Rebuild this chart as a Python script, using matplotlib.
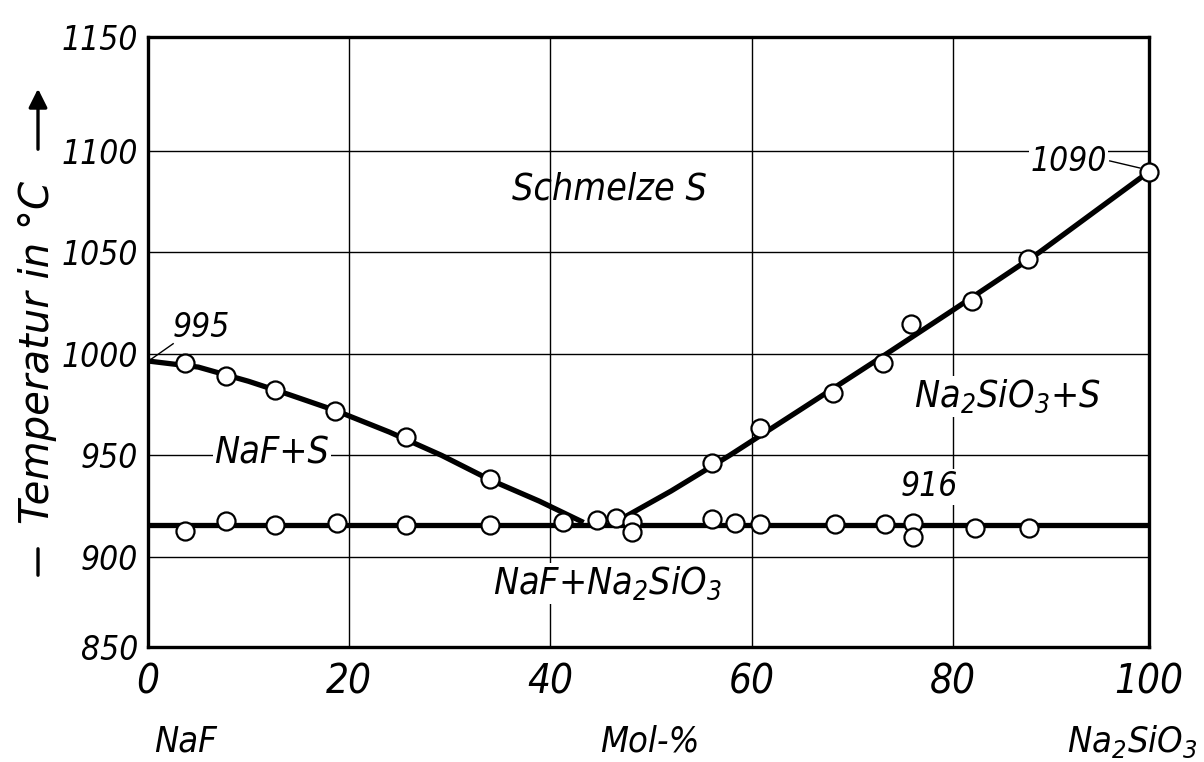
import matplotlib
matplotlib.use('Agg')
import matplotlib.pyplot as plt
from matplotlib import font_manager

# pick a narrow face if one is installed
fonts = font_manager.fontManager.ttflist
names = {f.name for f in fonts}
stretch = 'normal'
if 'Liberation Sans Narrow' in names:
    fam = 'Liberation Sans Narrow'
elif any(f.name == 'DejaVu Sans' and f.stretch == 'condensed' for f in fonts):
    fam, stretch = 'DejaVu Sans', 'condensed'
elif 'Roboto Condensed' in names:
    fam = 'Roboto Condensed'
else:
    fam = 'Liberation Sans'

plt.rcParams['font.family'] = [fam, 'DejaVu Sans']
plt.rcParams['font.style'] = 'italic'
plt.rcParams['font.stretch'] = stretch
plt.rcParams['mathtext.fontset'] = 'custom'
plt.rcParams['mathtext.rm'] = fam + ':italic'
plt.rcParams['mathtext.it'] = fam + ':italic'
plt.rcParams['mathtext.default'] = 'rm'

# Data (NaF - Na2SiO3, Mol-% Na2SiO3)
# measured points on the liquidus, NaF side
liq_left_x = [3.7, 7.8, 12.6, 18.6, 25.6, 34.0]
liq_left_t = [995.6, 989.2, 982.3, 971.9, 959.1, 938.4]
# measured points on the liquidus, Na2SiO3 side
liq_right_x = [56.1, 60.8, 68.1, 73.1, 75.8, 81.9, 87.5, 99.5]
liq_right_t = [946.3, 963.5, 980.8, 995.6, 1014.8, 1025.8, 1046.8, 1089.7]
# measured points on the eutectic horizontal
sol_x = [3.7, 7.8, 12.6, 18.8, 25.6, 34.0, 41.3, 44.6, 46.5, 48.1, 48.1,
         56.1, 58.3, 60.8, 68.3, 73.3, 76.0, 76.0, 82.2, 87.6]
sol_t = [912.8, 917.7, 915.8, 916.6, 915.8, 915.8, 917.4, 918.2, 919.0, 917.4,
         912.5, 918.6, 916.9, 916.3, 916.3, 916.3, 916.9, 910.0, 914.1, 914.1]

# drawn curves
curve_left_x = [0, 5, 10, 14, 18.7, 24, 29.2, 34, 38.9, 43.3]
curve_left_t = [996.5, 993.5, 986.5, 980, 972, 961.5, 950, 938, 927.5, 917]
curve_right_x = [47.5, 52, 57.8, 65, 73.4, 80, 88.6, 99.5]
curve_right_t = [920, 932.5, 950, 973, 1000, 1021.5, 1050, 1089.7]
eutectic_t = 916

x_ticks = [0, 20, 40, 60, 80, 100]
y_lo, y_hi = 855.7, 1156
y_tick_pos = [y_lo, 900, 950, 1000, 1050, 1100, y_hi]
y_tick_lab = ['850', '900', '950', '1000', '1050', '1100', '1150']

fig = plt.figure(figsize=(12.04, 7.62), dpi=100)
ax = fig.add_axes([148 / 1204, 1 - 647 / 762, (1149 - 148) / 1204, 610 / 762])

ax.set_xlim(0, 99.5)
ax.set_ylim(y_lo, y_hi)
ax.set_xticks([0, 20, 40, 60, 80, 99.5], labels=[str(v) for v in x_ticks])
ax.set_yticks(y_tick_pos, labels=y_tick_lab)
ax.grid(True, color='black', lw=1.0)
ax.set_axisbelow(True)
for s in ax.spines.values():
    s.set_linewidth(2.4)
ax.tick_params(axis='both', length=0)
ax.tick_params(axis='x', labelsize=29, pad=11)
ax.tick_params(axis='y', labelsize=24, pad=7)

# curves
ax.plot(curve_left_x, curve_left_t, color='black', lw=3.8, solid_capstyle='butt', zorder=3)
ax.plot(curve_right_x, curve_right_t, color='black', lw=3.8, solid_capstyle='butt', zorder=3)
ax.plot([0, 99.5], [eutectic_t, eutectic_t], color='black', lw=3.8, zorder=3)

mk = dict(ls='none', marker='o', ms=13, mfc='white', mec='black', mew=1.6, zorder=4, clip_on=False)
ax.plot(liq_left_x, liq_left_t, **mk)
ax.plot(liq_right_x, liq_right_t, **mk)
ax.plot(sol_x, sol_t, **mk)

bg = dict(facecolor='white', edgecolor='none', pad=1)
ax.text(45.9, 1081, 'Schmelze S', fontsize=27, ha='center', va='center', zorder=5)
ax.text(12.3, 951, 'NaF+S', fontsize=27, ha='center', va='center', bbox=bg, zorder=5)
ax.text(85.4, 979, r'Na$_2$SiO$_3$+S', fontsize=27, ha='center', va='center', bbox=bg, zorder=5)
ax.text(77.7, 934.5, '916', fontsize=24, ha='center', va='center', bbox=bg, zorder=5)
ax.text(45.7, 887, r'NaF+Na$_2$SiO$_3$', fontsize=27, ha='center', va='center', bbox=bg, zorder=5)

# leader lines for melting points
ax.text(2.5, 1005, '995', fontsize=24, ha='left', va='bottom', zorder=5)
ax.plot([0.2, 2.5], [997, 1005], color='black', lw=1.0, zorder=5)
ax.text(95.3, 1094.5, '1090', fontsize=24, ha='right', va='center', bbox=bg, zorder=5)
ax.plot([95.6, 98.6], [1095, 1091.5], color='black', lw=1.0, zorder=5)

# axis captions
fig.text(186 / 1204, 1 - 742 / 762, 'NaF', fontsize=26, ha='center', va='center')
fig.text(650 / 1204, 1 - 742 / 762, 'Mol-%', fontsize=26, ha='center', va='center')
fig.text(1198 / 1204, 1 - 742 / 762, r'Na$_2$SiO$_3$', fontsize=26, ha='right', va='center')

fig.text(38 / 1204, 1 - 352 / 762, 'Temperatur in °C', fontsize=29, rotation=90,
         ha='center', va='center', fontstretch='normal', family=['DejaVu Sans'])
ax.annotate('', xy=(38 / 1204, 1 - 86 / 762), xytext=(38 / 1204, 1 - 152 / 762),
            xycoords='figure fraction', textcoords='figure fraction',
            arrowprops=dict(arrowstyle='-|>', color='black', lw=2.4, mutation_scale=28))
ax.annotate('', xy=(38 / 1204, 1 - 578 / 762), xytext=(38 / 1204, 1 - 546 / 762),
            xycoords='figure fraction', textcoords='figure fraction',
            arrowprops=dict(arrowstyle='-', color='black', lw=2.4))

fig.savefig('out.png', dpi=100)
